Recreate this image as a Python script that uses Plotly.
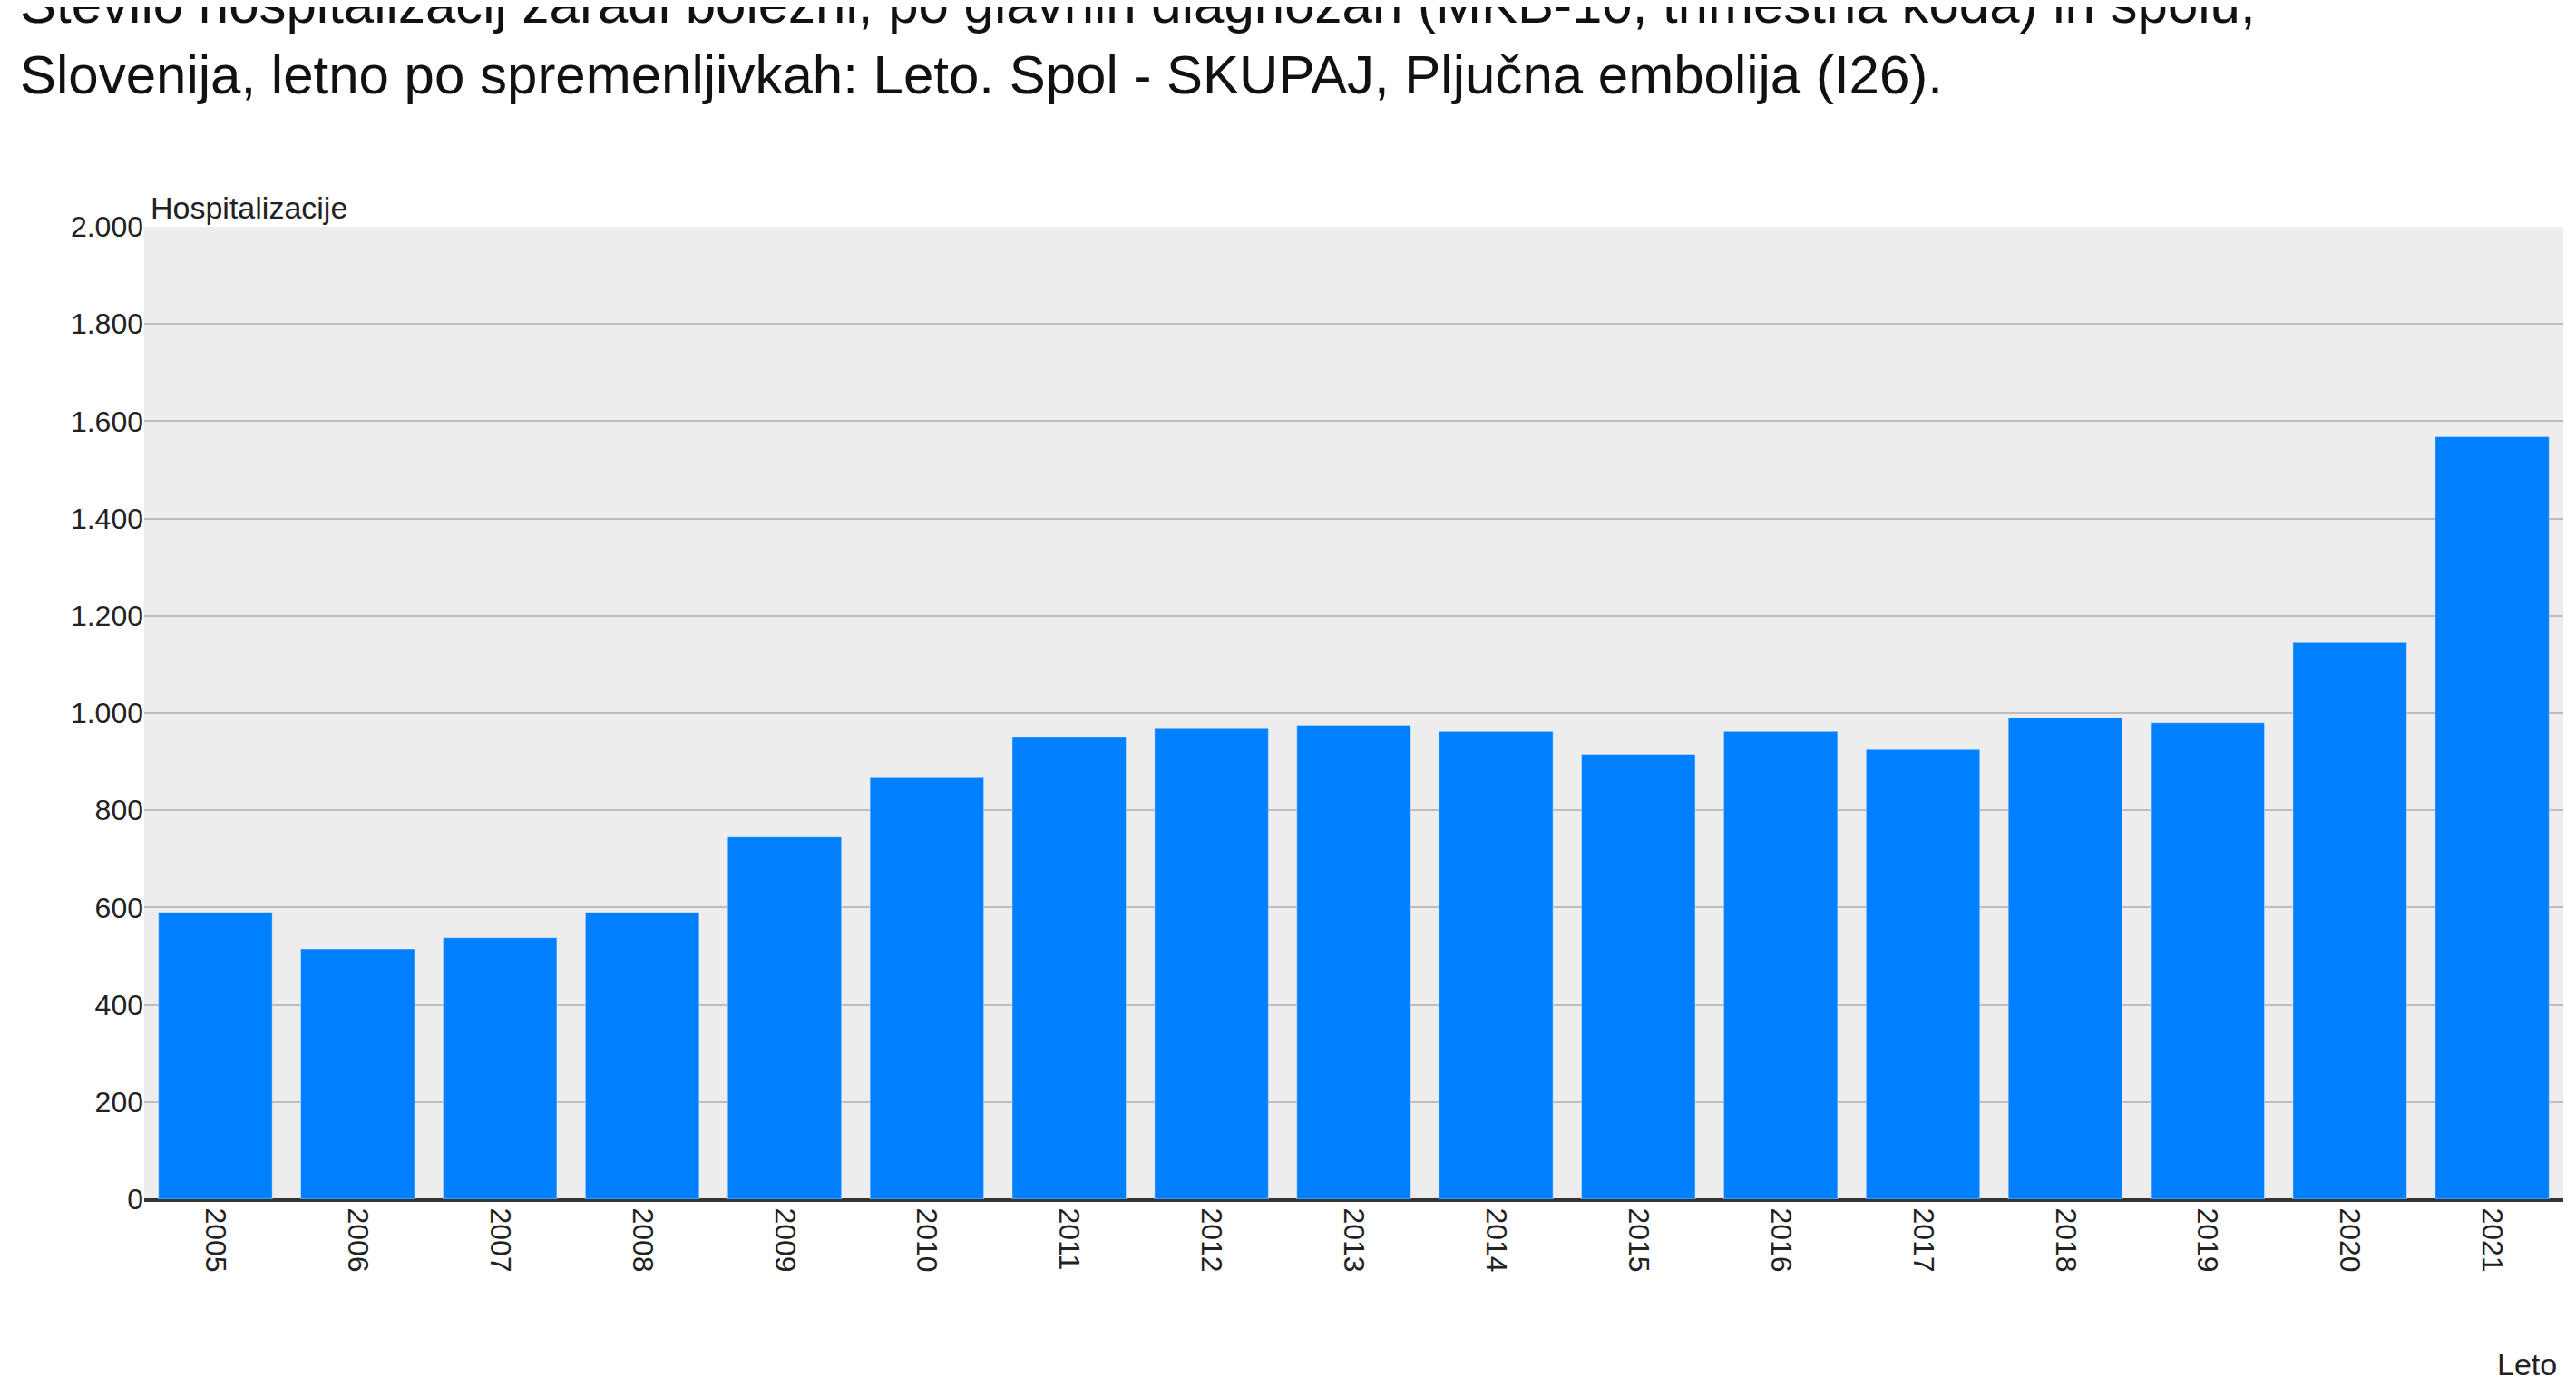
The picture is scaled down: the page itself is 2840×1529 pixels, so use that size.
import plotly.graph_objects as go

years = [str(y) for y in range(2005, 2022)]
hospitalizacije = [590, 515, 538, 590, 745, 867, 950, 968, 975, 962, 915, 962, 925, 990, 980, 1145, 1568]

fig = go.Figure(go.Bar(x=years, y=hospitalizacije, marker_color="#0080FF", width=0.8))

fig.update_layout(
    width=2840, height=1529,
    paper_bgcolor="white", plot_bgcolor="#EDEDED",
    separators=",.",
    font=dict(family="Arial, Liberation Sans", color="#222"),
    margin=dict(l=151, r=22, t=242, b=215),
    showlegend=False,
)
fig.update_yaxes(range=[0, 2000], dtick=200, tickformat=",d", gridcolor="#BDBDBD", gridwidth=2,
                 tickfont=dict(size=32), ticks="", zeroline=True, zerolinecolor="#333", zerolinewidth=3)
fig.update_xaxes(tickangle=90, tickfont=dict(size=32), ticks="", showline=True, linecolor="#333", linewidth=3)
fig.add_annotation(
    text="Število hospitalizacij zaradi bolezni, po glavnih diagnozah (MKB-10, trimestna koda) in spolu,<br>"
         "Slovenija, letno po spremenljivkah: Leto. Spol - SKUPAJ, Pljučna embolija (I26).",
    xref="paper", yref="paper", x=-0.052, y=1.262, xanchor="left", yanchor="top", align="left",
    showarrow=False, font=dict(size=60, color="#111"),
)
fig.add_annotation(text="Hospitalizacije", xref="paper", yref="paper", x=0.002, y=1.0, xanchor="left",
                   yanchor="bottom", showarrow=False, font=dict(size=34))
fig.add_annotation(text="Leto", xref="paper", yref="paper", x=0.998, y=-0.15, xanchor="right",
                   yanchor="top", showarrow=False, font=dict(size=34))

fig.write_html("out.html")
